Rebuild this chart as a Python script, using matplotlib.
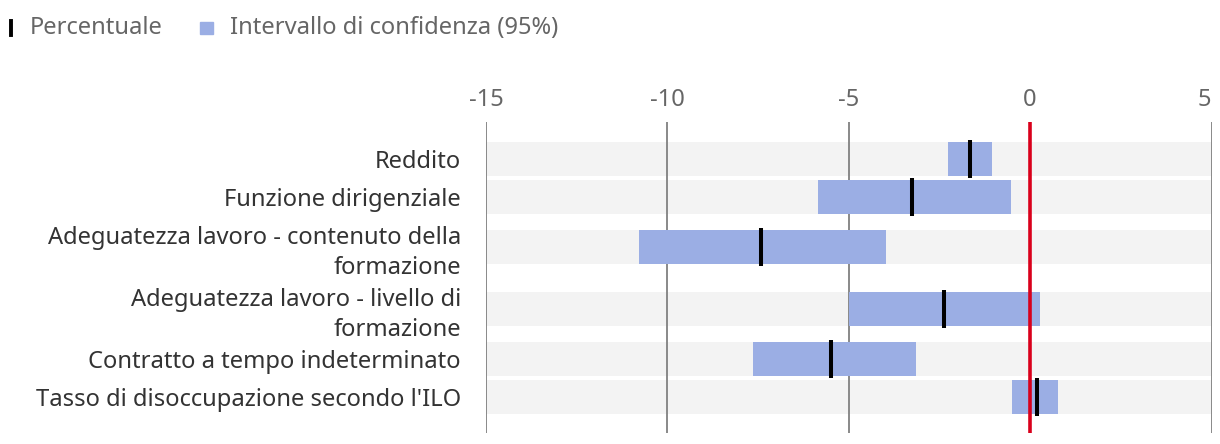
import matplotlib
matplotlib.use("Agg")
import matplotlib.pyplot as plt
from matplotlib.lines import Line2D
from matplotlib.patches import Rectangle

plt.rcParams['font.family'] = ['Noto Sans', 'DejaVu Sans']

categories = [
    "Reddito",
    "Funzione dirigenziale",
    "Adeguatezza lavoro - contenuto della\nformazione",
    "Adeguatezza lavoro - livello di\nformazione",
    "Contratto a tempo indeterminato",
    "Tasso di disoccupazione secondo l'ILO",
]
ci_low = [-2.27, -5.86, -10.79, -5.00, -7.64, -0.49]
ci_high = [-1.04, -0.54, -3.98, 0.28, -3.14, 0.78]
percentuale = [-1.65, -3.26, -7.42, -2.37, -5.48, 0.18]
xticks = [-15, -10, -5, 0, 5]
legend_labels = ["Percentuale", "Intervallo di confidenza (95%)"]

BLUE = "#9baee4"
BAND = "#f3f3f3"
GRID = "#808080"
RED = "#d9001b"
TXT = "#666666"
FS = 17.1

W, H = 1220, 444
fig = plt.figure(figsize=(W / 100, H / 100), dpi=100)
ax = fig.add_axes([486 / W, 1 - 433 / H, (1211.5 - 486) / W, (433 - 121.7) / H])

# row positions in pixel-like units, more room for wrapped labels
lines = [c.count("\n") + 1 for c in categories]
pos = [0.0]
for i in range(1, len(categories)):
    pos.append(pos[-1] + 38 + 12 * (lines[i - 1] - 1) + 12 * (lines[i] - 1))

ax.set_xlim(xticks[0], xticks[-1])
ax.set_ylim(pos[-1] + 36, pos[0] - 37.3)

band_h = 34
ax.barh(pos, [xticks[-1] - xticks[0]] * len(pos), left=xticks[0], height=band_h,
        color=BAND, zorder=0)
for x in xticks:
    if x == 0:
        continue
    ax.axvline(x, color=GRID, lw=1.3, zorder=1)
widths = [h - l for l, h in zip(ci_low, ci_high)]
ax.barh(pos, widths, left=ci_low, height=band_h, color=BLUE, zorder=2)
ax.axvline(0, color=RED, lw=2.6, zorder=3)
ax.vlines(percentuale, [p - 19 for p in pos], [p + 19 for p in pos],
          color="black", lw=2.9, zorder=4)

ax.set_yticks(pos)
ax.set_yticklabels(categories, fontsize=FS, color="#333333", linespacing=1.32)
ax.tick_params(axis="y", length=0, pad=18)
ax.xaxis.tick_top()
ax.set_xticks(xticks)
ax.set_xticklabels([str(x) for x in xticks], fontsize=FS, color=TXT)
ax.tick_params(axis="x", length=0, pad=7)
ax.get_xticklabels()[-1].set_horizontalalignment("right")
for s in ax.spines.values():
    s.set_visible(False)

# legend
ly = 1 - 28 / H
fig.add_artist(Line2D([10.5 / W, 10.5 / W], [1 - 21 / H, 1 - 35 / H], color="black", lw=2.8))
fig.text(30 / W, ly, legend_labels[0], fontsize=FS, color=TXT, va="center", ha="left")
fig.add_artist(Rectangle((200 / W, 1 - 34.5 / H), 12.5 / W, 12.5 / H, color=BLUE,
                         transform=fig.transFigure))
fig.text(230 / W, ly, legend_labels[1], fontsize=FS, color=TXT, va="center", ha="left")

fig.savefig("out.png", dpi=100)
